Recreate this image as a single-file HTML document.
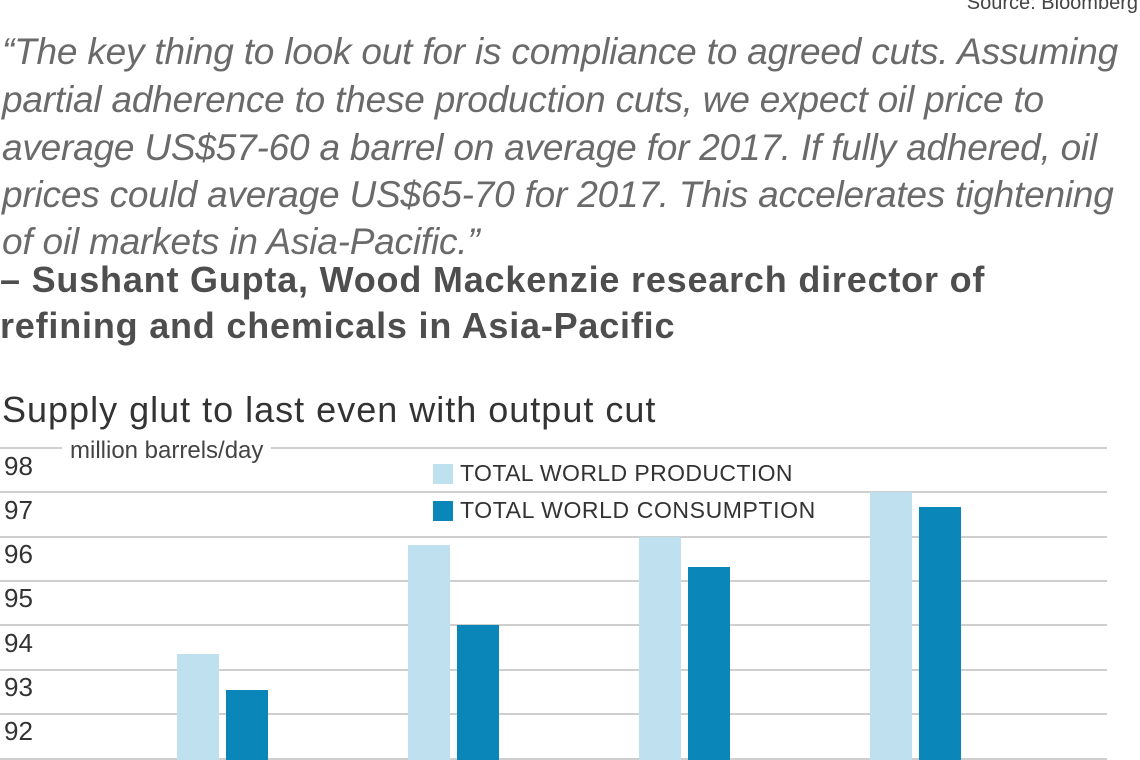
<!DOCTYPE html>
<html><head><style>
body{margin:0;width:1140px;height:760px;overflow:hidden;background:#fff;position:relative;font-family:"Liberation Sans",sans-serif;}
.a{position:absolute;white-space:nowrap;}
.q{font-style:italic;font-size:37px;color:#6a6a6a;left:2px;letter-spacing:-0.2px;}
.b{font-weight:bold;font-size:36px;color:#4e4e4e;left:0px;letter-spacing:0.8px;}
.g{position:absolute;left:0;width:1107px;height:2px;background:#cfcfcf;}
.y{position:absolute;left:4px;font-size:26px;color:#333;}
.bar{position:absolute;width:42px;bottom:0;}
.l{background:#bfe0ee}.d{background:#0a86b8}
</style></head><body>
<div class="a" style="right:2px;top:-8px;font-size:20px;color:#444">Source: Bloomberg</div>
<div class="a q" style="top:31px">“The key thing to look out for is compliance to agreed cuts. Assuming</div>
<div class="a q" style="top:79px">partial adherence to these production cuts, we expect oil price to</div>
<div class="a q" style="top:127px">average US$57-60 a barrel on average for 2017. If fully adhered, oil</div>
<div class="a q" style="top:174px">prices could average US$65-70 for 2017. This accelerates tightening</div>
<div class="a q" style="top:221px">of oil markets in Asia-Pacific.”</div>
<div class="a b" style="top:259px">– Sushant Gupta, Wood Mackenzie research director of</div>
<div class="a b" style="top:305px">refining and chemicals in Asia-Pacific</div>
<div class="a" style="left:2px;top:389px;font-size:36px;color:#333;letter-spacing:1px">Supply glut to last even with output cut</div>
<div class="g" style="top:447px"></div>
<div class="g" style="top:491px"></div>
<div class="g" style="top:536px"></div>
<div class="g" style="top:580px"></div>
<div class="g" style="top:624px"></div>
<div class="g" style="top:669px"></div>
<div class="g" style="top:713px"></div>
<div class="g" style="top:758px"></div>
<div class="a" style="left:62px;top:437px;background:#fff;padding:0 8px;font-size:24px;color:#444">million barrels/day</div>
<div class="y" style="top:451px">98</div>
<div class="y" style="top:495px">97</div>
<div class="y" style="top:539px">96</div>
<div class="y" style="top:583px">95</div>
<div class="y" style="top:628px">94</div>
<div class="y" style="top:672px">93</div>
<div class="y" style="top:716px">92</div>
<div class="a" style="left:433px;top:464px;width:20px;height:20px;background:#bfe0ee"></div>
<div class="a" style="left:460px;top:460px;font-size:23px;color:#333;letter-spacing:0.4px">TOTAL WORLD PRODUCTION</div>
<div class="a" style="left:433px;top:501px;width:20px;height:20px;background:#0a86b8"></div>
<div class="a" style="left:460px;top:497px;font-size:23px;color:#333;letter-spacing:0.6px">TOTAL WORLD CONSUMPTION</div>
<div style="position:absolute;left:0;top:0;width:1140px;height:760px">
<div class="bar l" style="left:177px;height:106px"></div>
<div class="bar d" style="left:226px;height:70px"></div>
<div class="bar l" style="left:408px;height:215px"></div>
<div class="bar d" style="left:457px;height:135px"></div>
<div class="bar l" style="left:639px;height:223px"></div>
<div class="bar d" style="left:688px;height:193px"></div>
<div class="bar l" style="left:870px;height:268px"></div>
<div class="bar d" style="left:919px;height:253px"></div>
</div>
</body></html>
